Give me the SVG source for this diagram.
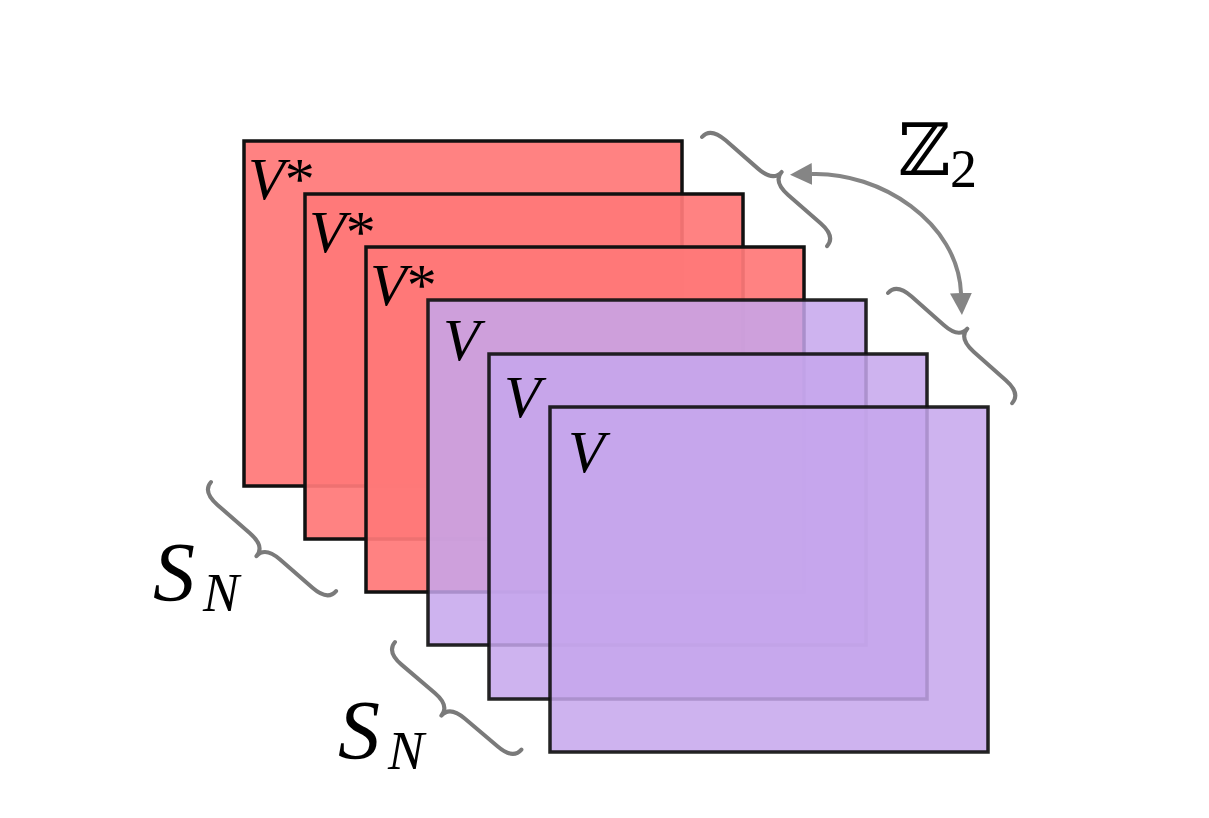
<svg xmlns="http://www.w3.org/2000/svg" width="1209" height="818" viewBox="0 0 1209 818">
<style>
.red{fill:#FF7979;fill-opacity:.93;stroke:#111;stroke-width:3.5}
.pur{fill:#C6A6EC;fill-opacity:.85;stroke:#111;stroke-width:3.5;stroke-opacity:.92}
.brace{fill:none;stroke:#7a7a7a;stroke-width:4;stroke-linecap:round;stroke-linejoin:round}
.arrow{fill:none;stroke:#858585;stroke-width:4}
</style>
<defs>
<path id="br" d="M0 0 C0 -10 8 -13 20 -13 L63 -13 C75 -13 83 -16 83 -26 C83 -16 91 -13 103 -13 L146 -13 C158 -13 166 -10 166 0"/>
<marker id="ah" markerUnits="userSpaceOnUse" markerWidth="24" markerHeight="22" refX="0" refY="11" orient="auto-start-reverse" viewBox="0 0 24 22">
<path d="M0 0 L22 11 L0 22 Z" fill="#858585"/>
</marker>
</defs>
<g id="card1"><rect class="red" x="244" y="141" width="438" height="345"/><text font-family="'Liberation Serif', serif" font-size="60" x="248" y="199"><tspan font-style="italic">V</tspan>*</text></g>
<g id="card2"><rect class="red" x="305" y="194" width="438" height="345"/><text font-family="'Liberation Serif', serif" font-size="60" x="309" y="252"><tspan font-style="italic">V</tspan>*</text></g>
<g id="card3"><rect class="red" x="366" y="247" width="438" height="345"/><text font-family="'Liberation Serif', serif" font-size="60" x="370" y="305"><tspan font-style="italic">V</tspan>*</text></g>
<g id="card4"><rect class="pur" x="428" y="300" width="438" height="345"/><text font-family="'Liberation Serif', serif" font-size="60" font-style="italic" x="443" y="360">V</text></g>
<g id="card5"><rect class="pur" x="489" y="354" width="438" height="345"/><text font-family="'Liberation Serif', serif" font-size="60" font-style="italic" x="504" y="417">V</text></g>
<g id="card6"><rect class="pur" x="550" y="407" width="438" height="345"/><text font-family="'Liberation Serif', serif" font-size="60" font-style="italic" x="568" y="472">V</text></g>
<g id="connectors">
<use href="#br" class="brace" transform="translate(702,137) rotate(41.1)"/>
<use href="#br" class="brace" transform="translate(888,293) rotate(41.6)"/>
<use href="#br" class="brace" transform="translate(211,482) rotate(41.1) scale(1,-1)"/>
<use href="#br" class="brace" transform="translate(395,642) rotate(40.4) scale(1,-1)"/>
<path class="arrow" d="M812 174 C880 172 958 222 961 293" marker-start="url(#ah)" marker-end="url(#ah)"/>
</g>
<g id="labels">
<text x="898" y="175" font-family="'DejaVu Serif', 'DejaVu Sans', serif" font-size="72">ℤ</text>
<text x="950" y="187" font-family="'Liberation Serif', serif" font-size="54">2</text>
<text x="153" y="601" font-family="'Liberation Serif', serif" font-style="italic" font-size="84">S</text>
<text x="203" y="611" font-family="'Liberation Serif', serif" font-style="italic" font-size="54">N</text>
<text x="338" y="759" font-family="'Liberation Serif', serif" font-style="italic" font-size="84">S</text>
<text x="388" y="769" font-family="'Liberation Serif', serif" font-style="italic" font-size="54">N</text>
</g>
</svg>
